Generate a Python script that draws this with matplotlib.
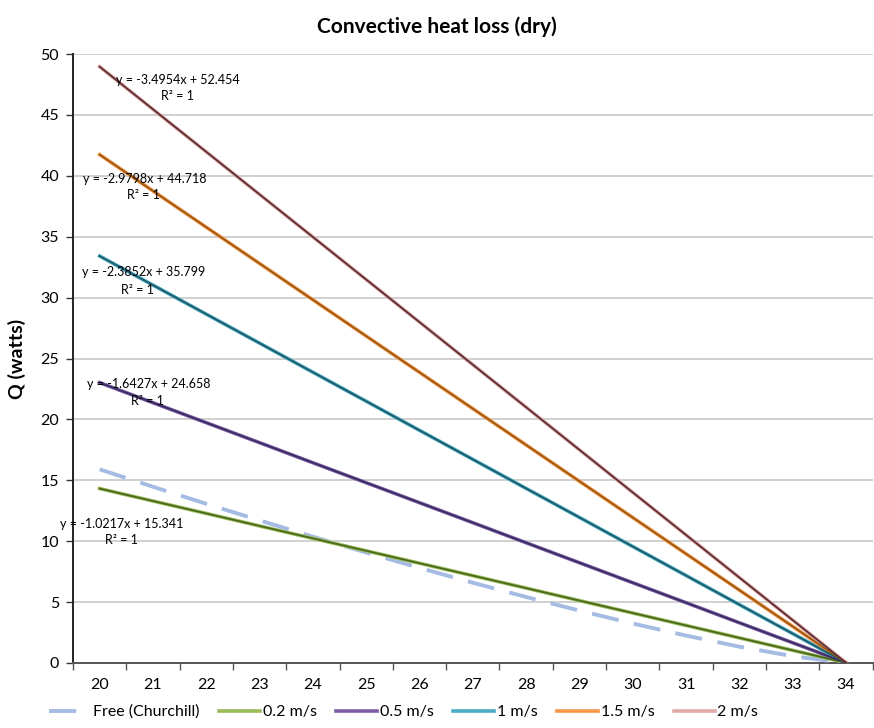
import numpy as np
import matplotlib
matplotlib.use("Agg")
import matplotlib.pyplot as plt
from matplotlib.ticker import FixedLocator

plt.rcParams['font.family'] = ['Lato', 'DejaVu Sans']

# --- dados ---
temps = [20, 21, 22, 23, 24, 25, 26, 27, 28, 29, 30, 31, 32, 33, 34]

free_churchill = [15.9, 14.47, 13.07, 11.71, 10.37, 9.07, 7.81, 6.59, 5.42, 4.30, 3.24, 2.25, 1.34, 0.56, 0.0]
v_02 = [14.32, 13.30, 12.28, 11.25, 10.23, 9.21, 8.19, 7.17, 6.15, 5.12, 4.10, 3.08, 2.06, 1.04, 0.02]
v_05 = [23.02, 21.37, 19.73, 18.09, 16.44, 14.80, 13.16, 11.52, 9.87, 8.23, 6.59, 4.95, 3.30, 1.66, 0.02]
v_1 = [33.41, 31.03, 28.64, 26.26, 23.87, 21.49, 19.10, 16.72, 14.33, 11.95, 9.56, 7.18, 4.79, 2.41, 0.02]
v_15 = [41.74, 38.76, 35.78, 32.80, 29.82, 26.84, 23.86, 20.88, 17.90, 14.92, 11.94, 8.96, 5.98, 3.00, 0.02]
v_2 = [48.96, 45.46, 41.97, 38.47, 34.98, 31.48, 27.99, 24.49, 21.00, 17.50, 14.00, 10.51, 7.01, 3.52, 0.02]

series_names = ['0.2 m/s', '0.5 m/s', '1 m/s', '1.5 m/s', '2 m/s']
series_vals = [v_02, v_05, v_1, v_15, v_2]
series_cores = ['#9BBB59', '#7D5FA6', '#4BACC6', '#F79646', '#E2A9A9']
trend_cores = ['#4B6A1E', '#3B2C63', '#1F5C6A', '#9A5A14', '#5B2F33']

eq_labels = ['y = -1.0217x + 15.341', 'y = -1.6427x + 24.658', 'y = -2.3852x + 35.799',
             'y = -2.9798x + 44.718', 'y = -3.4954x + 52.454']
# posições dos rótulos (categoria, valor)
eq_pos = [(0.41, 11.4), (0.92, 22.9), (0.83, 32.1), (0.84, 39.7), (1.46, 47.9)]
r2_pos = [(0.41, 10.1), (0.90, 21.5), (0.71, 30.6), (0.83, 38.4), (1.45, 46.55)]

# --- figura ---
fig = plt.figure(figsize=(8.74, 7.28), dpi=100)
ax = fig.add_axes([0.0835, 0.0893, 0.915, 0.8365])

idx = np.arange(len(temps))

h_free, = ax.plot(idx, free_churchill, color='#A5BBE3', lw=2.8, dashes=(7, 4),
                  label='Free (Churchill)', zorder=3)
handles = [h_free]
for nome, vals, cor in zip(series_names, series_vals, series_cores):
    h, = ax.plot(idx, vals, color=cor, lw=2.6, label=nome, zorder=3)
    handles.append(h)

# linhas de tendência (x = índice 1..15, como no Excel)
for vals, cor in zip(series_vals, trend_cores):
    a, b = np.polyfit(idx + 1, vals, 1)
    ax.plot(idx, a * (idx + 1) + b, color=cor, lw=1.3, zorder=4)

for txt, (x, y) in zip(eq_labels, eq_pos):
    ax.text(x, y, txt, ha='center', va='center', fontsize=9, zorder=5)
for x, y in r2_pos:
    ax.text(x, y, 'R² = 1', ha='center', va='center', fontsize=9, zorder=5)

ax.set_xlim(-0.5, len(temps) - 0.5)
ax.set_ylim(0, 50)
ax.set_yticks(range(0, 51, 5))
ax.set_xticks(idx)
ax.set_xticklabels([str(t) for t in temps])
ax.xaxis.set_minor_locator(FixedLocator(np.arange(-0.5, len(temps), 1.0)))
ax.tick_params(axis='x', which='major', length=0, pad=11, labelsize=11.5)
ax.tick_params(axis='x', which='minor', length=5, color='#555555', width=1)
ax.tick_params(axis='y', length=5, color='#333333', width=1, labelsize=11.5, pad=5)

ax.grid(axis='y', color='#C4C4C4', lw=1.1)
ax.set_axisbelow(True)
for s in ['top', 'right']:
    ax.spines[s].set_visible(False)
ax.spines['left'].set_color('#222222')
ax.spines['left'].set_linewidth(1.4)
ax.spines['bottom'].set_color('#555555')
ax.spines['bottom'].set_linewidth(1.4)

ax.set_ylabel('Q (watts)', fontsize=14, fontweight='bold', labelpad=10)
fig.suptitle('Convective heat loss (dry)', fontsize=15, fontweight='bold', y=0.978)

fig.legend(handles=handles, loc='center', bbox_to_anchor=(0.462, 0.022), ncol=6,
           frameon=False, fontsize=11.5, handlelength=2.6, handletextpad=0.15,
           columnspacing=1.2)

fig.savefig('out.png', dpi=100)
